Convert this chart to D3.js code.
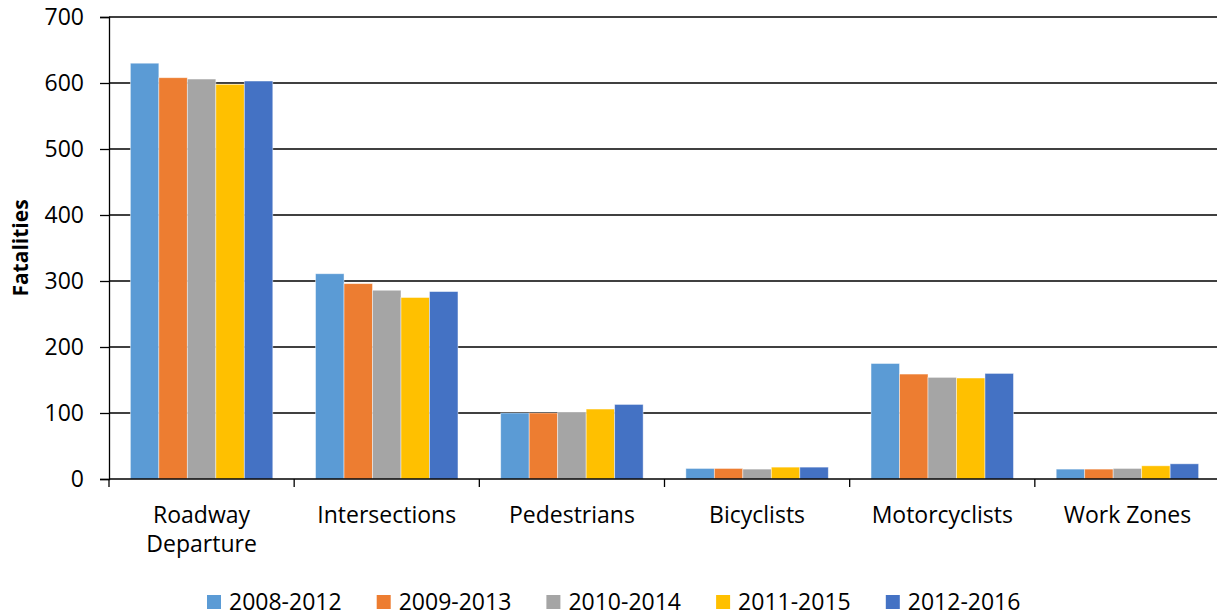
<!DOCTYPE html>
<html>
<head>
<meta charset="utf-8">
<script src="https://cdn.jsdelivr.net/npm/d3@7"></script>
<style>
   html, body { margin: 0; padding: 0; background: #fff; }
   svg { display: block; font-family: "Open Sans", sans-serif; }
</style>
</head>
<body>
<div id="chart"></div>
<script>

const categories = ["Roadway Departure", "Intersections", "Pedestrians", "Bicyclists", "Motorcyclists", "Work Zones"];
const series = ["2008-2012", "2009-2013", "2010-2014", "2011-2015", "2012-2016"];
const colors = ["#5B9BD5", "#ED7D31", "#A5A5A5", "#FFC000", "#4472C4"];

// one array per period, in category order
const values_2008_2012 = [630, 311, 100, 16, 175, 15];
const values_2009_2013 = [608, 296, 100, 16, 159, 15];
const values_2010_2014 = [606, 286, 101, 15, 154, 16];
const values_2011_2015 = [598, 275, 106, 18, 153, 20];
const values_2012_2016 = [603, 284, 113, 18, 160, 23];
const seriesValues = [values_2008_2012, values_2009_2013, values_2010_2014, values_2011_2015, values_2012_2016];

const yTicks = [0, 100, 200, 300, 400, 500, 600, 700];
const yLabel = "Fatalities";

const width = 1217;
const height = 616;
const margin = { top: 17, right: -3, bottom: 137, left: 109 };
const fontSize = "23px";

const svg = d3.select("#chart")
   .append("svg")
   .attr("width", width)
   .attr("height", height)
   .attr("viewBox", [0, 0, width, height]);

const x = d3.scaleBand()
   .domain(categories)
   .range([margin.left, width - margin.right])
   .padding(0);

// excel style gap width 150%: half a gap on each side of the group
const barW = x.bandwidth() / (series.length + 1.5);
const x1 = d3.scaleBand()
   .domain(series)
   .range([barW * 0.75, x.bandwidth() - barW * 0.75])
   .padding(0);

const y = d3.scaleLinear()
   .domain([0, 700])
   .range([height - margin.bottom, margin.top]);

// gridlines
svg.append("g")
   .selectAll("line")
   .data(yTicks.slice(1))
   .join("line")
   .attr("x1", margin.left)
   .attr("x2", width)
   .attr("y1", d => y(d))
   .attr("y2", d => y(d))
   .attr("stroke", "#000")
   .attr("stroke-width", 1.3);

// bars
const rows = [];
categories.forEach((c, ci) => {
   series.forEach((s, si) => {
      rows.push({ cat: c, s: s, si: si, v: seriesValues[si][ci] });
   });
});

svg.append("g")
   .selectAll("rect")
   .data(rows)
   .join("rect")
   .attr("x", d => x(d.cat) + x1(d.s))
   .attr("y", d => y(d.v))
   .attr("width", x1.bandwidth())
   .attr("height", d => y(0) - y(d.v))
   .attr("fill", d => colors[d.si])
   .attr("stroke", "rgba(255,255,255,0.55)")
   .attr("stroke-width", 0.8);

// left axis
const yAxis = g => {
   g.attr("transform", `translate(${margin.left},0)`)
      .style("font-family", "Open Sans")
      .style("font-size", fontSize)
      .call(d3.axisLeft(y)
         .tickValues(yTicks)
         .tickSizeOuter(0)
         .tickSize(9)
         .tickPadding(16))
      .call(g => g.selectAll("line, path").attr("stroke", "#000").attr("stroke-width", 1.3))
      .call(g => g.selectAll("text").attr("fill", "#000"));
}

// bottom axis, ticks between the categories
const xAxis = g => {
   const bounds = categories.map(c => x(c)).concat([x.range()[1]]);
   g.append("line")
      .attr("x1", margin.left)
      .attr("x2", width)
      .attr("y1", y(0))
      .attr("y2", y(0))
      .attr("stroke", "#000")
      .attr("stroke-width", 1.3);
   g.selectAll(".cat-tick")
      .data(bounds)
      .join("line")
      .attr("class", "cat-tick")
      .attr("x1", d => d)
      .attr("x2", d => d)
      .attr("y1", y(0))
      .attr("y2", y(0) + 8)
      .attr("stroke", "#000")
      .attr("stroke-width", 1.3);

   const labels = g.selectAll(".cat-label")
      .data(categories)
      .join("text")
      .attr("class", "cat-label")
      .attr("x", d => x(d) + x.bandwidth() / 2)
      .attr("y", 523)
      .attr("text-anchor", "middle")
      .style("font-size", fontSize)
      .attr("fill", "#000");

   labels.each(function (d) {
      const words = d === "Roadway Departure" ? ["Roadway", "Departure"] : [d];
      d3.select(this).selectAll("tspan")
         .data(words)
         .join("tspan")
         .attr("x", x(d) + x.bandwidth() / 2)
         .attr("dy", (w, i) => i === 0 ? 0 : 29)
         .text(w => w);
   });
}

svg.append("g").attr("class", "y-axis").call(yAxis);
svg.append("g").attr("class", "x-axis").call(xAxis);

svg.append("text")
   .attr("transform", `translate(28,${(y(0) + y(700)) / 2}) rotate(-90)`)
   .attr("text-anchor", "middle")
   .style("font-size", "21px")
   .style("font-weight", "bold")
   .attr("fill", "#000")
   .text(yLabel);

// legend
const legend = svg.append("g")
   .selectAll("g")
   .data(series)
   .join("g")
   .attr("transform", (d, i) => `translate(${207 + i * 169.7},595)`);

legend.append("rect")
   .attr("width", 14)
   .attr("height", 14)
   .attr("fill", (d, i) => colors[i]);

legend.append("text")
   .attr("x", 22)
   .attr("y", 14.5)
   .style("font-size", fontSize)
   .attr("fill", "#000")
   .text(d => d);

</script>
</body>
</html>
